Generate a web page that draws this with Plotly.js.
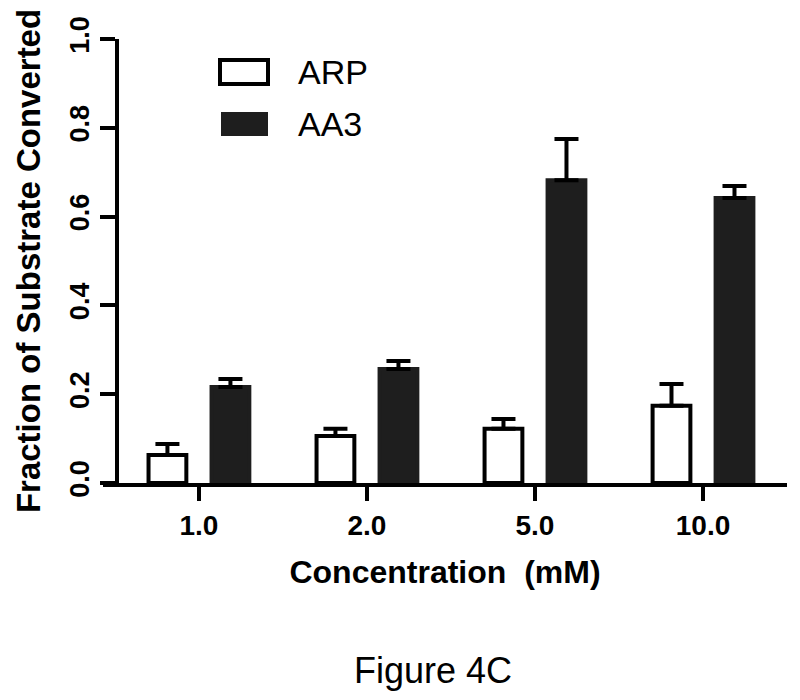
<!DOCTYPE html>
<html>
<head>
<meta charset="utf-8">
<script src="https://cdn.plot.ly/plotly-3.0.1.min.js"></script>
<style>html,body{margin:0;padding:0;background:#fff;}#chart{width:800px;height:700px;}</style>
</head>
<body>
<div id="chart"></div>
<script>
// ---- data ----
const categories = ['1.0', '2.0', '5.0', '10.0'];
const seriesNames = ['ARP', 'AA3'];
const arpValues = [0.063, 0.106, 0.122, 0.174];
const arpErrors = [0.025, 0.016, 0.022, 0.049];
const aa3Values = [0.216, 0.257, 0.682, 0.642];
const aa3Errors = [0.018, 0.018, 0.093, 0.027];
const yTickVals = [0, 0.2, 0.4, 0.6, 0.8, 1.0];
const yTickText = ['0.0', '0.2', '0.4', '0.6', '0.8', '1.0'];

// ---- layout constants ----
const W = 800, H = 700;
const M = {l: 103, r: 13, t: 39, b: 217};
const PW = W - M.l - M.r, PH = H - M.t - M.b;
const px = x => (x - M.l) / PW;       // pixel -> paper x
const py = y => (H - M.b - y) / PH;   // pixel -> paper y
const FONT = '"Liberation Sans", Arial, Helvetica, sans-serif';
const DARK = '#1e1e1e';

const traces = [
  {
    type: 'bar', name: seriesNames[0], x: categories, y: arpValues,
    marker: {color: '#ffffff', line: {color: '#000000', width: 4}},
    error_y: {type: 'data', array: arpErrors, arrayminus: arpValues.map(() => 0), symmetric: false,
              color: '#000000', thickness: 4, width: 12},
    showlegend: false
  },
  {
    type: 'bar', name: seriesNames[1], x: categories, y: aa3Values,
    marker: {color: DARK, line: {color: DARK, width: 4}},
    error_y: {type: 'data', array: aa3Errors, arrayminus: aa3Values.map(() => 0), symmetric: false,
              color: '#000000', thickness: 4, width: 12},
    showlegend: false
  }
];

const layout = {
  width: W, height: H,
  margin: M,
  paper_bgcolor: '#ffffff', plot_bgcolor: '#ffffff',
  font: {family: FONT, color: '#000000'},
  barmode: 'group', bargap: 0.25, bargroupgap: 0.4,
  xaxis: {
    type: 'category', range: [-0.571, 3.5],
    showline: true, linecolor: '#000000', linewidth: 4,
    ticks: 'outside', ticklen: 14, tickwidth: 4, tickcolor: '#000000',
    tickfont: {family: FONT, size: 28, weight: 'bold', color: '#000000'},
    showgrid: false, zeroline: false, fixedrange: true,
    title: {text: 'Concentration  (mM)', font: {family: FONT, size: 32, weight: 'bold', color: '#000000'}, standoff: 22}
  },
  yaxis: {
    range: [0, 1], anchor: 'free', position: px(117),
    showline: true, linecolor: '#000000', linewidth: 4,
    ticks: 'outside', ticklen: 15, tickwidth: 4, tickcolor: '#000000',
    tickvals: yTickVals, ticktext: yTickText, tickangle: -90,
    tickfont: {family: FONT, size: 27, weight: 'bold', color: '#000000'},
    showgrid: false, zeroline: false, fixedrange: true,
    title: {text: 'Fraction of Substrate Converted', font: {family: FONT, size: 33, weight: 'bold', color: '#000000'}, standoff: 14}
  },
  shapes: [
    {type: 'rect', xref: 'paper', yref: 'paper', x0: px(220), x1: px(268), y0: py(60), y1: py(84),
     fillcolor: '#ffffff', line: {color: '#000000', width: 4}},
    {type: 'rect', xref: 'paper', yref: 'paper', x0: px(221), x1: px(268), y0: py(112), y1: py(136),
     fillcolor: DARK, line: {width: 0}},
    // x-axis line stub extending left of the y axis
    {type: 'line', xref: 'paper', yref: 'paper', x0: px(103), x1: px(119), y0: 0, y1: 0,
     line: {color: '#000000', width: 4}}
  ],
  annotations: [
    {xref: 'paper', yref: 'paper', x: px(296), y: py(72), xanchor: 'left', yanchor: 'middle',
     text: seriesNames[0], showarrow: false, font: {family: FONT, size: 34, color: '#000000'}},
    {xref: 'paper', yref: 'paper', x: px(296), y: py(124), xanchor: 'left', yanchor: 'middle',
     text: seriesNames[1], showarrow: false, font: {family: FONT, size: 34, color: '#000000'}},
    {xref: 'paper', yref: 'paper', x: px(433), y: py(670), xanchor: 'center', yanchor: 'middle',
     text: 'Figure 4C', showarrow: false, font: {family: FONT, size: 36, color: '#000000'}}
  ]
};

Plotly.newPlot('chart', traces, layout, {staticPlot: true, displayModeBar: false});
</script>
</body>
</html>
